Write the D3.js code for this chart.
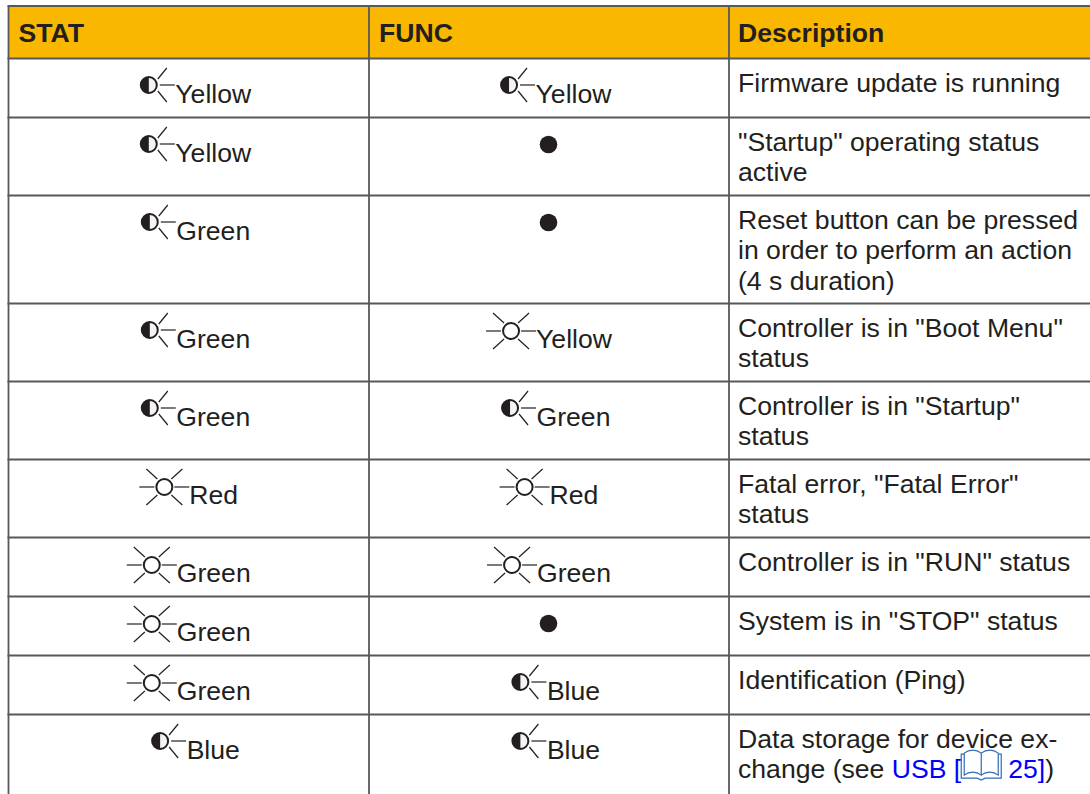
<!DOCTYPE html>
<html>
<head>
<meta charset="utf-8">
<script src="https://cdn.jsdelivr.net/npm/d3@7"></script>
<style>
html, body { margin: 0; padding: 0; background: #fff; overflow: hidden; }
text { font-family: "Liberation Sans", Arial, sans-serif; font-size: 26.6px; fill: #231f20; white-space: pre; }
</style>
</head>
<body>
<div id="chart"></div>
<script>
// table content, one entry per row
var headers = ["STAT", "FUNC", "Description"];

// led state: half = flashing, star = on, off = dark
var statState = ["half", "half", "half", "half", "half", "star", "star", "star", "star", "half"];
var statColor = ["Yellow", "Yellow", "Green", "Green", "Green", "Red", "Green", "Green", "Green", "Blue"];
var funcState = ["half", "off", "off", "star", "half", "star", "star", "off", "half", "half"];
var funcColor = ["Yellow", "", "", "Yellow", "Green", "Red", "Green", "", "Blue", "Blue"];

var descriptions = [
    ["Firmware update is running"],
    ["\"Startup\" operating status", "active"],
    ["Reset button can be pressed", "in order to perform an action", "(4 s duration)"],
    ["Controller is in \"Boot Menu\"", "status"],
    ["Controller is in \"Startup\"", "status"],
    ["Fatal error, \"Fatal Error\"", "status"],
    ["Controller is in \"RUN\" status"],
    ["System is in \"STOP\" status"],
    ["Identification (Ping)"],
    ["Data storage for device ex-", "change (see "]
];
var linkBefore = "USB [";
var linkAfter = "25]";
var linkTail = ")";

var width = 1090;
var height = 794;

// column edges
var colEdges = [8.5, 369, 729, 1090];
var textPad = 9;
var headHeight = 52.5;
var tableTop = 6;
var lineGap = 30.6;
var rowHeights = { 1: 59, 2: 78, 3: 108 };

var svg = d3.select("#chart")
    .append("svg")
    .attr("width", width)
    .attr("height", height)
    .style("display", "block");

// running row tops from the number of lines in each row
var rowTops = [];
var rowY = tableTop + headHeight;
descriptions.forEach(function(d) {
    rowTops.push(rowY);
    rowY += rowHeights[d.length];
});

// header band
svg.append("rect")
    .attr("x", colEdges[0])
    .attr("y", tableTop)
    .attr("width", width - colEdges[0])
    .attr("height", headHeight)
    .attr("fill", "#f9b700");

svg.selectAll("text.head")
    .data(headers)
    .enter()
    .append("text")
    .attr("class", "head")
    .attr("x", function(d, i) { return colEdges[i] + textPad + (i < 2 ? 1 : 0); })
    .attr("y", tableTop + 36)
    .style("font-weight", "bold")
    .text(function(d) { return d; });

// grid lines
var grid = svg.append("g").attr("stroke", "#58585a").attr("stroke-width", 1.8);
[tableTop].concat(rowTops).forEach(function(y) {
    grid.append("line")
        .attr("x1", colEdges[0] - 1).attr("x2", width)
        .attr("y1", y).attr("y2", y);
});
colEdges.slice(0, 3).forEach(function(x) {
    grid.append("line")
        .attr("x1", x).attr("x2", x)
        .attr("y1", tableTop).attr("y2", height);
});

// half filled led, rays to the right
function drawHalf(g, cx, cy) {
    var r = 8;
    g.append("circle")
        .attr("cx", cx).attr("cy", cy).attr("r", r)
        .attr("fill", "#f4f4f4").attr("stroke", "#231f20").attr("stroke-width", 2);
    g.append("path")
        .attr("d", d3.arc()({ innerRadius: 0, outerRadius: r, startAngle: Math.PI, endAngle: 2 * Math.PI }))
        .attr("transform", "translate(" + cx + "," + cy + ")")
        .attr("fill", "#231f20");
    var rays = [[9, -6, 18, -17], [11, 0, 26, 0], [9, 6, 18, 17]];
    rays.forEach(function(p) {
        g.append("line")
            .attr("x1", cx + p[0]).attr("y1", cy + p[1])
            .attr("x2", cx + p[2]).attr("y2", cy + p[3])
            .attr("stroke", "#231f20").attr("stroke-width", 1.2);
    });
}

// open led with rays all round
function drawStar(g, cx, cy) {
    g.append("circle")
        .attr("cx", cx).attr("cy", cy).attr("r", 8)
        .attr("fill", "#fff").attr("stroke", "#231f20").attr("stroke-width", 2);
    var rays = [[-25, 0, -10, 0], [10, 0, 25, 0], [-18, -18, -7, -8], [18, -18, 7, -8], [-18, 18, -7, 8], [18, 18, 7, 8]];
    rays.forEach(function(p) {
        g.append("line")
            .attr("x1", cx + p[0]).attr("y1", cy + p[1])
            .attr("x2", cx + p[2]).attr("y2", cy + p[3])
            .attr("stroke", "#231f20").attr("stroke-width", 1.2);
    });
}

function drawLed(col, state, label, top) {
    var center = (colEdges[col] + colEdges[col + 1]) / 2;
    var g = svg.append("g");
    if (state === "off") {
        g.append("circle")
            .attr("cx", center - 0.5).attr("cy", top + 27).attr("r", 8.8)
            .attr("fill", "#231f20");
        return;
    }
    var txt = g.append("text").attr("y", top + 44.5).text(label);
    var textW = txt.node().getComputedTextLength();
    // half icon keeps an empty 14px on the left, that is why it sits off centre
    var iconW = state === "half" ? 49 : 50;
    var left = center - (iconW + textW) / 2;
    txt.attr("x", left + iconW);
    if (state === "half") {
        drawHalf(g, left + 22.5, top + 26.5);
    } else {
        drawStar(g, left + 25, top + 27.5);
    }
}

rowTops.forEach(function(top, i) {
    drawLed(0, statState[i], statColor[i], top);
    drawLed(1, funcState[i], funcColor[i], top);
    descriptions[i].forEach(function(line, k) {
        svg.append("text")
            .attr("x", colEdges[2] + textPad)
            .attr("y", top + 33 + k * lineGap)
            .text(line);
    });
});

// last row carries the blue link with the book symbol
var lastTop = rowTops[rowTops.length - 1];
var linkY = lastTop + 33 + lineGap;
function inlineText(str, x, color) {
    var t = svg.append("text").attr("x", x).attr("y", linkY).text(str);
    if (color) t.style("fill", color);
    return x + t.node().getComputedTextLength();
}
var blue = "#0000ff";
var cursor = colEdges[2] + textPad;
var probe = svg.append("text").attr("visibility", "hidden").text(descriptions[9][1]);
cursor += probe.node().getComputedTextLength();
probe.remove();
cursor = inlineText(linkBefore, cursor, blue);

// book symbol
var book = svg.append("g")
    .attr("transform", "translate(" + cursor + "," + (linkY - 29) + ")")
    .attr("fill", "none")
    .attr("stroke", "#2f6db5")
    .attr("stroke-width", 1.2);
book.append("path").attr("d", "M3 4 C8 0 15 0 20 4 L20 26 C15 22 8 22 3 26 Z");
book.append("path").attr("d", "M20 4 C25 0 32 0 37 4 L37 26 C32 22 25 22 20 26");
book.append("path").attr("d", "M3 5 L0 5 L0 29 L16 29 L20 31 L24 29 L40 29 L40 5 L37 5");
cursor += 47;

cursor = inlineText(linkAfter, cursor, blue);
inlineText(linkTail, cursor);
</script>
</body>
</html>
